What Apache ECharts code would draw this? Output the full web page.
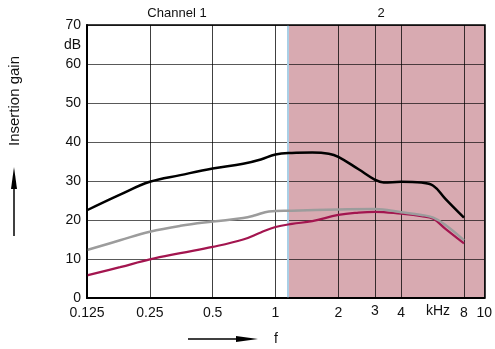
<!DOCTYPE html>
<html>
<head>
<meta charset="utf-8">
<script src="https://cdn.jsdelivr.net/npm/echarts@6/dist/echarts.min.js"></script>
<style>
  html, body { margin: 0; padding: 0; background: #fff; }
  #chart { width: 495px; height: 349px; }
</style>
</head>
<body>
<div id="chart"></div>
<script>
  // frequencies in kHz
  const freqBlack = [0.125, 0.18, 0.25, 0.35, 0.5, 0.7, 0.85, 1, 1.2, 1.5, 1.8, 2, 2.5, 3, 3.3, 4, 5, 5.7, 6.5, 8];
  const gainBlack = [22.5, 26.5, 29.8, 31.5, 33.2, 34.4, 35.5, 36.8, 37.2, 37.3, 37, 36.2, 33, 30.3, 29.6, 29.8, 29.6, 28.8, 25.5, 20.6];

  const freqGray = [0.125, 0.18, 0.25, 0.35, 0.5, 0.7, 0.8, 0.93, 1.2, 2, 3, 4, 5, 5.7, 6.5, 8];
  const gainGray = [12.3, 14.8, 17, 18.5, 19.6, 20.5, 21.2, 22.2, 22.4, 22.7, 22.8, 22, 21.3, 20.6, 18.8, 14.8];

  const freqRed = [0.125, 0.18, 0.25, 0.35, 0.5, 0.7, 0.85, 1, 1.2, 1.5, 2, 2.5, 3, 4, 5, 5.7, 6.5, 8];
  const gainRed = [5.8, 7.9, 9.9, 11.5, 13.1, 15, 16.8, 18.2, 19, 19.7, 21.3, 21.9, 22.1, 21.6, 21, 20.3, 17.8, 14];

  const channel2Start = 1.14; // kHz
  const extraGrid = [3];
  const yTicks = [0, 70, 10]; // min, max, interval

  const zip = (xs, ys) => xs.map((x, i) => [x, ys[i]]);
  const font = 'Liberation Sans, Arial, sans-serif';

  const myChart = echarts.init(document.getElementById('chart'));

  const options = {
    animation: false,
    grid: { left: 87, right: 10, top: 25, bottom: 51 },
    xAxis: {
      type: 'log',
      logBase: 2,
      min: 0.125,
      max: 10,
      splitNumber: 6,
      axisLine: { lineStyle: { color: '#000', width: 2 } },
      axisTick: { show: false },
      axisLabel: { color: '#111', fontSize: 14, fontFamily: font, margin: 8 },
      splitLine: { show: true, lineStyle: { color: 'rgba(0,0,0,0.75)', width: 1 } },
    },
    yAxis: {
      type: 'value',
      min: yTicks[0],
      max: yTicks[1],
      interval: yTicks[2],
      axisLine: { show: true, lineStyle: { color: '#000', width: 2 } },
      axisTick: { show: false },
      axisLabel: { color: '#111', fontSize: 14, fontFamily: font, margin: 6 },
      splitLine: { lineStyle: { color: 'rgba(0,0,0,0.65)', width: 1 } },
    },
    graphic: [
      // plot frame top/right
      { type: 'rect', shape: { x: 87, y: 25, width: 398, height: 273 }, style: { fill: 'none', stroke: '#000', lineWidth: 1.5 }, z: 10, silent: true },
      { type: 'text', x: 177, y: 13, style: { text: 'Channel 1', fontSize: 13, fontFamily: font, fill: '#111', align: 'center', verticalAlign: 'middle' } },
      { type: 'text', x: 381, y: 13, style: { text: '2', fontSize: 13, fontFamily: font, fill: '#111', align: 'center', verticalAlign: 'middle' } },
      { type: 'text', x: 81, y: 45, style: { text: 'dB', fontSize: 14, fontFamily: font, fill: '#111', align: 'right', verticalAlign: 'middle' } },
      { type: 'text', x: 375, y: 311, style: { text: '3', fontSize: 14, fontFamily: font, fill: '#111', align: 'center', verticalAlign: 'middle' } },
      { type: 'text', x: 438, y: 311, style: { text: 'kHz', fontSize: 14, fontFamily: font, fill: '#111', align: 'center', verticalAlign: 'middle' } },
      { type: 'text', x: 15, y: 101, rotation: Math.PI / 2, style: { text: 'Insertion gain', fontSize: 15, fontFamily: font, fill: '#111', align: 'center', verticalAlign: 'middle' } },
      { type: 'line', shape: { x1: 14, y1: 236, x2: 14, y2: 185 }, style: { stroke: '#000', lineWidth: 1.5 } },
      { type: 'polygon', shape: { points: [[14, 167], [11, 189], [17, 189]] }, style: { fill: '#000' } },
      { type: 'line', shape: { x1: 188, y1: 339, x2: 240, y2: 339 }, style: { stroke: '#000', lineWidth: 1.5 } },
      { type: 'polygon', shape: { points: [[258, 339], [236, 336], [236, 342]] }, style: { fill: '#000' } },
      { type: 'text', x: 276, y: 339, style: { text: 'f', fontSize: 14, fontFamily: font, fill: '#111', align: 'center', verticalAlign: 'middle' } },
    ],
    series: [
      {
        type: 'line',
        data: [],
        markArea: {
          z: -1,
          silent: true,
          itemStyle: { color: '#D8AAB1' },
          data: [[{ xAxis: channel2Start }, { xAxis: 10 }]],
        },
      },
      {
        type: 'line',
        data: [],
        markLine: {
          silent: true,
          symbol: 'none',
          label: { show: false },
          data: [
            { xAxis: channel2Start, lineStyle: { color: '#A9CFE6', width: 2, type: 'solid' } },
            ...extraGrid.map((v) => ({ xAxis: v, lineStyle: { color: 'rgba(0,0,0,0.75)', width: 1, type: 'solid' } })),
          ],
        },
      },
      {
        name: 'black',
        type: 'line',
        smooth: 0.4,
        showSymbol: false,
        data: zip(freqBlack, gainBlack),
        lineStyle: { color: '#000', width: 2.5 },
        z: 5,
      },
      {
        name: 'red',
        type: 'line',
        smooth: 0.4,
        showSymbol: false,
        data: zip(freqRed, gainRed),
        lineStyle: { color: '#A3154F', width: 2.2 },
        z: 5,
      },
      {
        name: 'gray',
        type: 'line',
        smooth: 0.4,
        showSymbol: false,
        data: zip(freqGray, gainGray),
        lineStyle: { color: '#9C9C9C', width: 2.5 },
        z: 6,
      },
    ],
  };

  myChart.setOption(options);
</script>
</body>
</html>
